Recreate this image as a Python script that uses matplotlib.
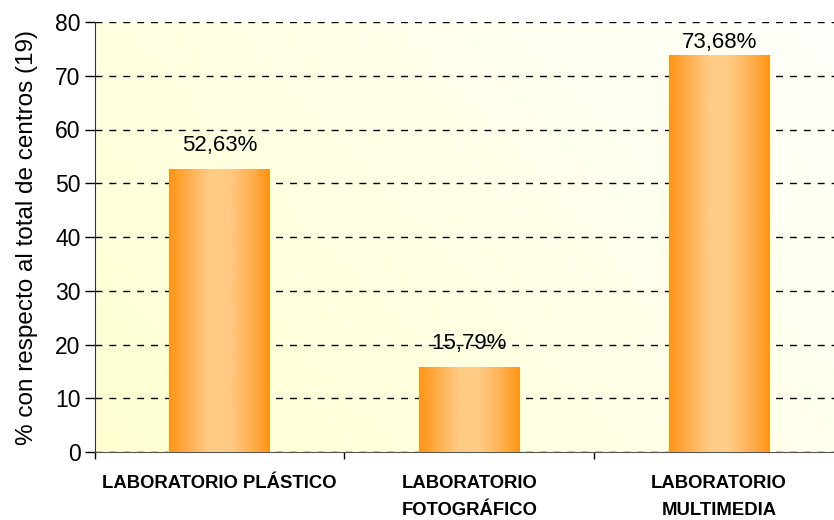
import numpy as np
import matplotlib
matplotlib.use("Agg")
import matplotlib.pyplot as plt
from matplotlib.colors import LinearSegmentedColormap

categories = ["LABORATORIO PLÁSTICO", "LABORATORIO\nFOTOGRÁFICO", "LABORATORIO\nMULTIMEDIA"]
values = [52.63, 15.79, 73.68]
value_labels = ["52,63%", "15,79%", "73,68%"]
yticks = [0, 10, 20, 30, 40, 50, 60, 70, 80]
ylabel = "% con respecto al total de centros (19)"

plt.rcParams['font.family'] = ['Liberation Sans', 'DejaVu Sans']

fig = plt.figure(figsize=(8.34, 5.2), dpi=100)
ax = fig.add_axes([94.5/834, 1-452/520, (844-94.5)/834, (452-22)/520])

# background gradient (bottom-left yellow -> top-right white)
gx, gy = np.meshgrid(np.linspace(0, 1, 200), np.linspace(0, 1, 200))
bg_cmap = LinearSegmentedColormap.from_list("bg", ["#FFFFFB", "#FFFFD2"])
tt = 1 - (gx * 0.65 + gy * 0.35)
ax.imshow(tt, cmap=bg_cmap, extent=[0, 1, 0, 1], transform=ax.transAxes,
          aspect='auto', origin='lower', zorder=0, vmin=0, vmax=1)

ax.set_xlim(0, 3)
ax.set_ylim(0, 80)

bar_cmap = LinearSegmentedColormap.from_list(
    "bar", [(0.0, "#FF9412"), (0.2, "#FFB050"), (0.4, "#FFCB85"),
            (0.6, "#FFCB85"), (0.82, "#FFB050"), (1.0, "#FF9412")])
grad = np.linspace(0, 1, 256).reshape(1, -1)
width = 0.404
xs = np.arange(len(values)) + 0.5
for x, v, lab in zip(xs, values, value_labels):
    ax.imshow(grad, cmap=bar_cmap, extent=[x - width/2, x + width/2, 0, v],
              aspect='auto', zorder=3)
    ty = min(v + 3.3, 75.2)
    ax.text(x, ty, lab, ha='center', va='baseline', fontsize=16, zorder=5)

ax.set_yticks(yticks)
ax.set_yticklabels([str(v) for v in yticks], fontsize=16.5)
ax.yaxis.grid(True, linestyle=(0, (5, 5)), color='black', linewidth=1.0, zorder=1)
ax.set_axisbelow(True)
ax.tick_params(axis='y', direction='out', length=7, width=1, pad=3)

ax.set_xticks([0, 1, 2, 3])
ax.set_xticklabels([])
ax.tick_params(axis='x', direction='out', length=5, width=1)
for x, c in zip(xs, categories):
    ax.text(x, -4.3, c, ha='center', va='top', fontsize=13.3, fontweight='bold',
            linespacing=1.75)

ax.set_ylabel(ylabel, fontsize=17.5, labelpad=12)

for s in ['top', 'right']:
    ax.spines[s].set_visible(False)
ax.spines['left'].set_color('#333333')
ax.spines['bottom'].set_color('#555555')

fig.savefig("out.png", dpi=100)
